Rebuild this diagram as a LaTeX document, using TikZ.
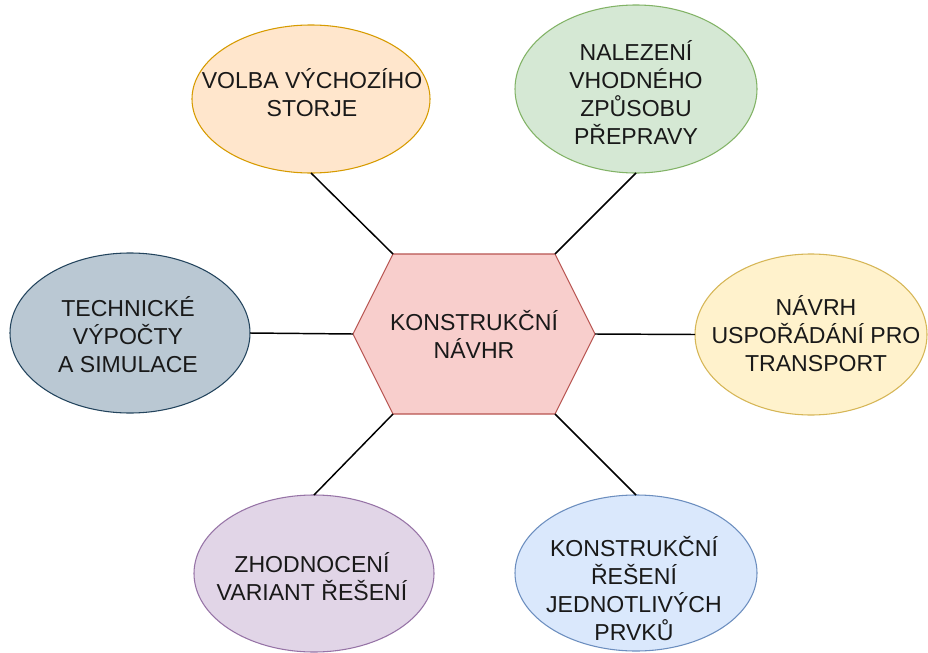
\documentclass[tikz,border=0pt]{standalone}
\usepackage{fontspec}
\setmainfont{Liberation Sans}
\usetikzlibrary{shapes.geometric}
\definecolor{oFill}{HTML}{FFE6CC}\definecolor{oLine}{HTML}{D79B00}
\definecolor{gFill}{HTML}{D5E8D4}\definecolor{gLine}{HTML}{82B366}
\definecolor{yFill}{HTML}{FFF2CC}\definecolor{yLine}{HTML}{D6B656}
\definecolor{sFill}{HTML}{BAC8D3}\definecolor{sLine}{HTML}{23445D}
\definecolor{pFill}{HTML}{E1D5E7}\definecolor{pLine}{HTML}{9673A6}
\definecolor{bFill}{HTML}{DAE8FC}\definecolor{bLine}{HTML}{6C8EBF}
\definecolor{rFill}{HTML}{F8CECC}\definecolor{rLine}{HTML}{B85450}
\begin{document}
\begin{tikzpicture}[x=0.75pt,y=-0.75pt,
  blob/.style={ellipse, inner sep=0pt, outer sep=0pt, line width=0.8pt},
  lbl/.style={align=center, inner sep=0pt, text=black!90,
    font=\fontsize{17.3pt}{21pt}\selectfont},
  link/.style={draw=black, line width=1.1pt}]
\useasboundingbox[fill=white] (0,0) rectangle (928,653);
% hexagon
\coordinate (hL) at (353,334);
\coordinate (hTL) at (393,254);
\coordinate (hTR) at (555,254);
\coordinate (hR) at (595,334);
\coordinate (hBR) at (555,414);
\coordinate (hBL) at (393,414);
\filldraw[fill=rFill, draw=rLine, line width=0.8pt, line join=miter]
  (hL) -- (hTL) -- (hTR) -- (hR) -- (hBR) -- (hBL) -- cycle;
\node[lbl] (tc) at (474,334) {KONSTRUKČNÍ\\NÁVHR};
% ellipses
\node[blob, fill=oFill, draw=oLine, minimum width=238*0.75pt, minimum height=148*0.75pt] (eo) at (311,99) {};
\node[blob, fill=gFill, draw=gLine, minimum width=242*0.75pt, minimum height=168*0.75pt] (eg) at (636,89) {};
\node[blob, fill=yFill, draw=yLine, minimum width=232*0.75pt, minimum height=161*0.75pt] (ey) at (811,334.5) {};
\node[blob, fill=sFill, draw=sLine, minimum width=240*0.75pt, minimum height=160*0.75pt] (es) at (130,333) {};
\node[blob, fill=pFill, draw=pLine, minimum width=240*0.75pt, minimum height=157*0.75pt] (ep) at (314,573.5) {};
\node[blob, fill=bFill, draw=bLine, minimum width=242*0.75pt, minimum height=156*0.75pt] (eb) at (636,573) {};
% labels
\node[lbl] (to) at (312,93) {VOLBA VÝCHOZÍHO\\STORJE};
\node[lbl] (tg) at (636,92) {NALEZENÍ\\VHODNÉHO\\ZPŮSOBU\\PŘEPRAVY};
\node[lbl] (ty) at (816,334) {NÁVRH\\USPOŘÁDÁNÍ PRO\\TRANSPORT};
\node[lbl] (ts) at (128,335) {TECHNICKÉ\\VÝPOČTY\\A SIMULACE};
\node[lbl] (tp) at (312,577) {ZHODNOCENÍ\\VARIANT ŘEŠENÍ};
\node[lbl] (tb) at (634,589) {KONSTRUKČNÍ\\ŘEŠENÍ\\JEDNOTLIVÝCH\\PRVKŮ};
% connectors
\draw[link] (hTL) -- (eo.south);
\draw[link] (hTR) -- (eg.south);
\draw[link] (hL) -- (es.east);
\draw[link] (hR) -- (ey.west);
\draw[link] (hBL) -- (ep.north);
\draw[link] (hBR) -- (eb.north);
\end{tikzpicture}
\end{document}
